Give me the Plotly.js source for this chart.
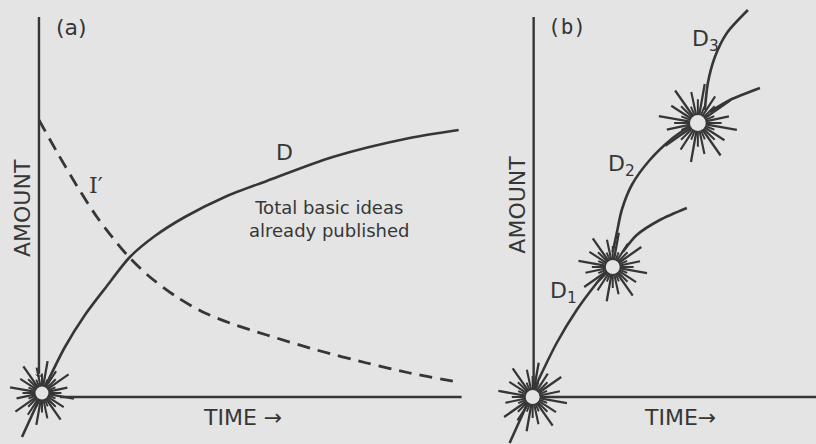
<!DOCTYPE html>
<html>
<head>
<meta charset="utf-8">
<script src="https://cdn.plot.ly/plotly-3.0.1.min.js"></script>
<style>
  html, body { margin: 0; padding: 0; background: #e4e4e4; }
  #chart { width: 816px; height: 444px; }
</style>
</head>
<body>
<div id="chart"></div>
<script>
// Panel (a): time / amount, arbitrary units (origin at the burst)
const iPrimeT = [0, 0.45, 0.95, 1.45, 1.95, 2.275, 2.775, 3.45, 4.1, 4.775, 5.7, 6.95, 8.2, 9.275, 10.475];
const iPrimeA = [6.925, 6.125, 5.275, 4.5, 3.85, 3.475, 3.0, 2.5, 2.125, 1.85, 1.55, 1.175, 0.85, 0.6, 0.375];

const dT = [-0.425, 0.2, 0.65, 1.15, 1.7, 2.275, 2.9, 3.65, 4.65, 5.7, 7.35, 9.275, 10.5];
const dA = [-1.0, 0.35, 1.25, 2.05, 2.775, 3.5, 4.025, 4.5, 5.0, 5.4, 6.0, 6.475, 6.675];

// Panel (b): successive bursts of discovery
const d1T = [-0.6, 0.025, 0.575, 1.075, 1.575, 1.95];
const d1A = [-1.15, 0.225, 1.35, 2.175, 2.85, 3.3];

const d2T = [1.975, 2.075, 2.2, 2.45, 2.9, 3.475, 3.975];
const d2A = [3.625, 4.1, 4.675, 5.3, 5.925, 6.475, 6.825];

const branch2T = [2.225, 2.575, 3.15, 3.825];
const branch2A = [3.625, 4.05, 4.425, 4.725];

const d3T = [4.275, 4.35, 4.525, 4.825, 5.35];
const d3A = [7.175, 7.85, 8.5, 9.1, 9.675];

const branch3T = [4.4, 4.9, 5.65];
const branch3A = [7.125, 7.425, 7.725];

// burst centres
const burstsAT = [0.075];
const burstsAA = [0.1];
const burstsBT = [-0.025, 1.975, 4.1];
const burstsBA = [0, 3.25, 6.85];

const bg = '#e4e4e4';
const ink = '#363636';

function line(x, y, xa, ya, extra) {
  return Object.assign({
    type: 'scatter', mode: 'lines', x: x, y: y, xaxis: xa, yaxis: ya,
    line: { color: ink, width: 2.6, shape: 'spline', smoothing: 0.8 },
    hoverinfo: 'skip', showlegend: false
  }, extra || {});
}

// a burst = a few overlaid asterisks with a hollow middle
function bursts(x, y, sizes, xa, ya) {
  const layers = [
    { s: 1.0, a: 10, w: 2.3 },
    { s: 0.8, a: 33, w: 2.1 },
    { s: 0.6, a: 0, w: 2.0 },
    { s: 0.45, a: 22, w: 1.9 }
  ];
  const out = layers.map(l => ({
    type: 'scatter', mode: 'markers', x: x, y: y, xaxis: xa, yaxis: ya,
    marker: {
      symbol: 'asterisk-open', size: sizes.map(s => s * l.s), angle: l.a,
      color: ink, opacity: 1, line: { color: ink, width: l.w }
    },
    hoverinfo: 'skip', showlegend: false
  }));
  out.push({
    type: 'scatter', mode: 'markers', x: x, y: y, xaxis: xa, yaxis: ya,
    marker: { symbol: 'circle', size: sizes.map(s => s * 0.24), color: bg, opacity: 1, line: { width: 0 } },
    hoverinfo: 'skip', showlegend: false
  });
  return out;
}

const traces = [
  // axes of (a)
  line([0, 0], [9.5, 0.45], 'x', 'y', {
    mode: 'lines+markers',
    line: { color: ink, width: 2.4 },
    marker: { symbol: ['circle', 'arrow-wide'], size: [0, 11], angleref: 'previous', color: ink }
  }),
  line([0.525, 10.575], [0, 0], 'x', 'y', { line: { color: ink, width: 2.4 } }),
  line(iPrimeT, iPrimeA, 'x', 'y', { line: { color: ink, width: 2.8, dash: '13px,8px', shape: 'spline', smoothing: 0.8 } }),
  line(dT, dA, 'x', 'y'),
  ...bursts(burstsAT, burstsAA, [54], 'x', 'y'),

  // axes of (b)
  line([0, 0], [9.5, 0.2], 'x2', 'y2', { line: { color: ink, width: 2.4 } }),
  line([0.225, 7.1], [0, 0], 'x2', 'y2', { line: { color: ink, width: 2.4 } }),
  line(d1T, d1A, 'x2', 'y2'),
  line(d2T, d2A, 'x2', 'y2'),
  line(branch2T, branch2A, 'x2', 'y2'),
  line(d3T, d3A, 'x2', 'y2'),
  line(branch3T, branch3A, 'x2', 'y2'),
  ...bursts(burstsBT, burstsBA, [58, 58, 66], 'x2', 'y2')
];

const letter = { family: 'DejaVu Sans, sans-serif', size: 22, color: ink };
const mono = { family: 'DejaVu Sans Mono, monospace', size: 21, color: ink };

function note(text, x, y, xa, ya, font, extra) {
  return Object.assign({ text: text, x: x, y: y, xref: xa, yref: ya, showarrow: false, font: font }, extra || {});
}

const layout = {
  width: 816, height: 444,
  margin: { l: 0, r: 0, t: 0, b: 0 },
  paper_bgcolor: bg, plot_bgcolor: bg,
  xaxis: { domain: [0, 0.6], range: [-0.975, (490 - 39) / 40], visible: false, fixedrange: true },
  yaxis: { domain: [0, 1], range: [-1.175, 9.925], visible: false, fixedrange: true },
  xaxis2: { domain: [0.6, 1], range: [-1.1, 7.05], visible: false, fixedrange: true },
  yaxis2: { domain: [0, 1], range: [-1.175, 9.925], visible: false, fixedrange: true },
  annotations: [
    note('(a)', 0.825, 9.25, 'x', 'y', letter),
    note('I\u2032', 1.425, 5.3, 'x', 'y', { family: 'DejaVu Serif, serif', size: 22, color: ink }),
    note('D', 6.15, 6.125, 'x', 'y', letter),
    note('Total basic ideas<br>already published', 7.275, 4.45, 'x', 'y',
      { family: 'DejaVu Sans, sans-serif', size: 18, color: ink }),
    note('AMOUNT', -0.425, 4.725, 'x', 'y', letter, { textangle: -90 }),
    note('TIME \u2192', 5.1, -0.5, 'x', 'y', letter),

    note('(b)', 0.825, 9.25, 'x2', 'y2', mono),
    note('D<sub>3</sub>', 4.3, 8.925, 'x2', 'y2', letter),
    note('D<sub>2</sub>', 2.2, 5.8, 'x2', 'y2', letter),
    note('D<sub>1</sub>', 0.75, 2.625, 'x2', 'y2', letter),
    note('AMOUNT', -0.425, 4.8, 'x2', 'y2', letter, { textangle: -90 }),
    note('TIME\u2192', 3.65, -0.5, 'x2', 'y2', letter)
  ]
};

Plotly.newPlot('chart', traces, layout, { displayModeBar: false, staticPlot: true });
</script>
</body>
</html>
